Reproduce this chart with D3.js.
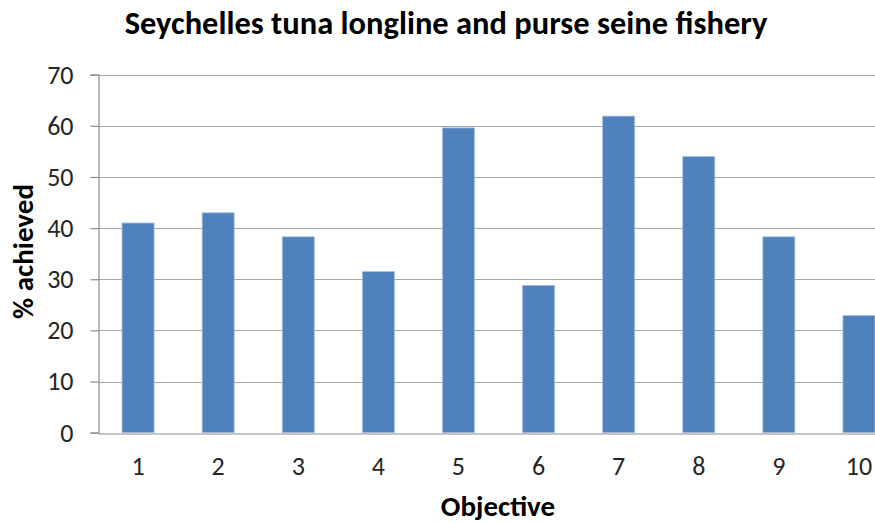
<!DOCTYPE html>
<html>
<head>
<meta charset="utf-8">
<script src="https://cdn.jsdelivr.net/npm/d3@7"></script>
<style>
  body { margin: 0; background: #fff; }
  svg { display: block; }
</style>
</head>
<body>
<script>
const width = 875;
const height = 523;

// data
const objectives = ['1', '2', '3', '4', '5', '6', '7', '8', '9', '10'];
const achieved = [41.0, 43.0, 38.3, 31.5, 59.6, 28.8, 61.9, 54.0, 38.3, 22.9];
const yTicks = [0, 10, 20, 30, 40, 50, 60, 70];

const font = 'Carlito, Calibri, "Open Sans", sans-serif';

const x = d3.scaleBand()
  .domain(objectives)
  .range([98, 899])
  .paddingInner(0.6)
  .paddingOuter(0.3);

const y = d3.scaleLinear()
  .domain([0, 70])
  .range([432.7, 74.7]);

const svg = d3.select('body').append('svg')
  .attr('width', width)
  .attr('height', height);

// grid lines
svg.append('g')
  .selectAll('line')
  .data(yTicks.filter(d => d > 0))
  .enter()
  .append('line')
  .attr('x1', 98)
  .attr('x2', width)
  .attr('y1', d => Math.round(y(d)) + 0.5)
  .attr('y2', d => Math.round(y(d)) + 0.5)
  .attr('stroke', '#a6a6a6')
  .attr('stroke-width', 1.2);

// bars
svg.append('g')
  .selectAll('rect')
  .data(achieved)
  .enter()
  .append('rect')
  .attr('x', (d, i) => x(objectives[i]))
  .attr('y', d => y(d))
  .attr('width', x.bandwidth())
  .attr('height', d => y(0) - y(d))
  .attr('fill', '#4f81bd')
  .attr('stroke', '#a7c0e0')
  .attr('stroke-width', 0.8);

// y axis
const yAxis = svg.append('g')
  .attr('transform', 'translate(98.5,0)')
  .call(d3.axisLeft(y).tickValues(yTicks).tickSize(8).tickPadding(17).tickFormat(d3.format('d')));
yAxis.select('.domain').attr('stroke', '#8c8c8c').attr('stroke-width', 1.2);
yAxis.selectAll('.tick line').attr('stroke', '#8c8c8c').attr('stroke-width', 1.2);
yAxis.selectAll('.tick text')
  .attr('font-family', font)
  .attr('font-size', 26)
  .attr('fill', '#262626');

// x axis
const xAxis = svg.append('g')
  .attr('transform', `translate(0,${Math.round(y(0)) + 0.5})`)
  .call(d3.axisBottom(x).tickSize(0).tickPadding(23));
xAxis.select('.domain').attr('stroke', '#8c8c8c').attr('stroke-width', 1.2);
xAxis.selectAll('.tick text')
  .attr('font-family', font)
  .attr('font-size', 26)
  .attr('fill', '#262626');

// title
svg.append('text')
  .attr('x', 446)
  .attr('y', 34)
  .attr('text-anchor', 'middle')
  .attr('font-family', font)
  .attr('font-size', 32.5)
  .attr('font-weight', 'bold')
  .attr('fill', '#000')
  .text('Seychelles tuna longline and purse seine fishery');

// axis titles
svg.append('text')
  .attr('x', 498)
  .attr('y', 516)
  .attr('text-anchor', 'middle')
  .attr('font-family', font)
  .attr('font-size', 29)
  .attr('font-weight', 'bold')
  .attr('fill', '#000')
  .text('Objective');

svg.append('text')
  .attr('transform', 'translate(33,251.5) rotate(-90)')
  .attr('text-anchor', 'middle')
  .attr('font-family', font)
  .attr('font-size', 29)
  .attr('font-weight', 'bold')
  .attr('fill', '#000')
  .text('% achieved');
</script>
</body>
</html>
